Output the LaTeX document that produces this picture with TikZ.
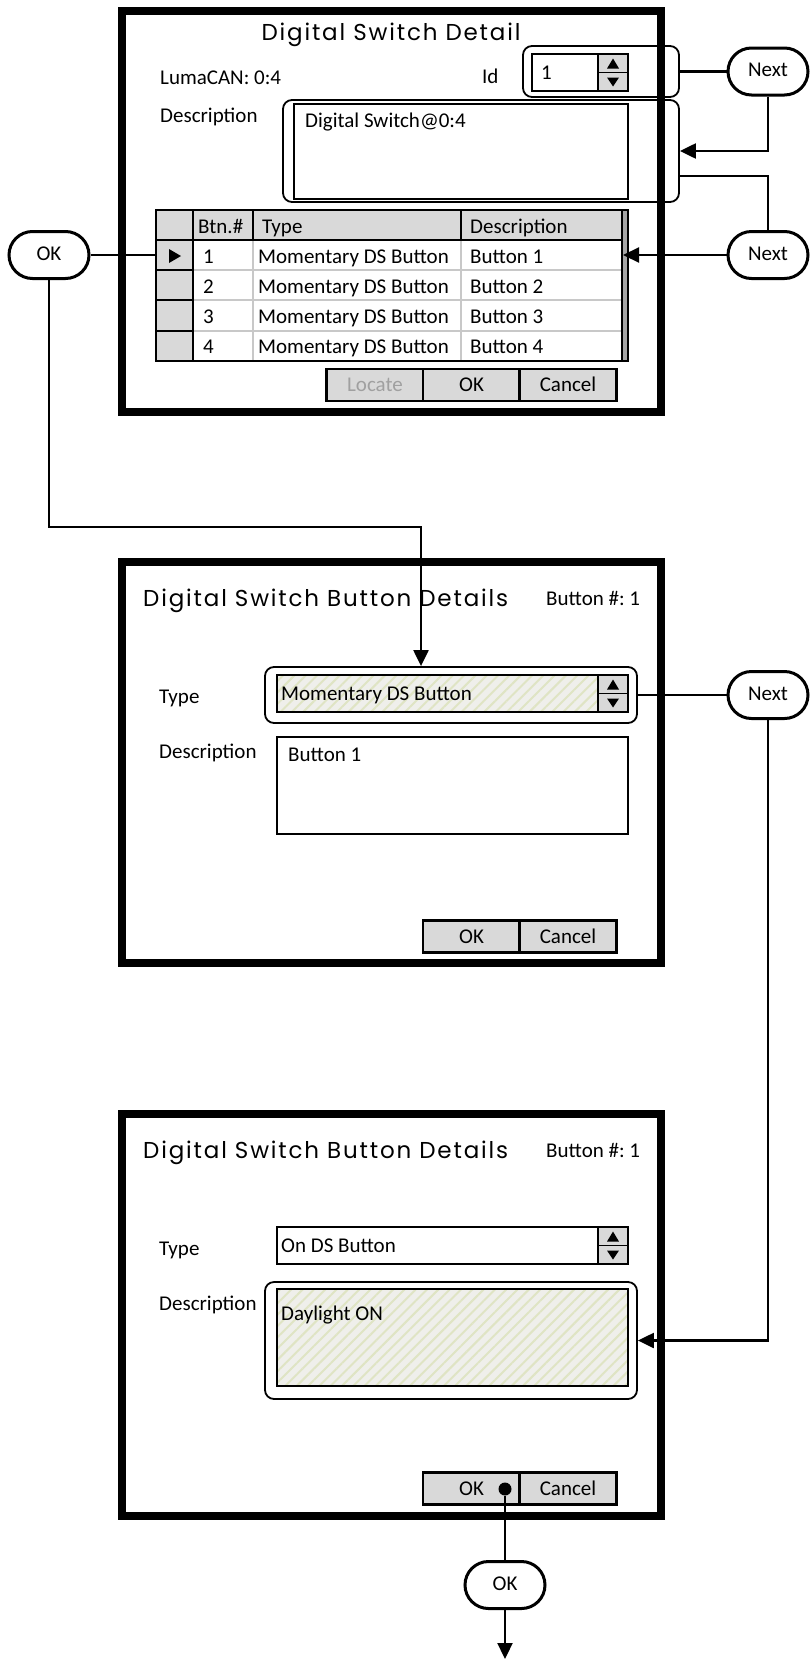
\documentclass[tikz,border=0pt]{standalone}
\usepackage{fontspec}
\setmainfont{Carlito}
\newfontfamily\headfont[LetterSpace=8]{Poppins}
\usetikzlibrary{arrows.meta,positioning,fit,shapes.misc,patterns.meta}
\definecolor{btngray}{HTML}{D9D9D9}
\definecolor{gridgray}{HTML}{C8C8C8}
\definecolor{scrollgray}{HTML}{A6A6A6}
\definecolor{hatchbg}{HTML}{EFEFEB}
\definecolor{hatchln}{HTML}{DFE4C4}
\definecolor{dimtext}{HTML}{A0A0A0}
\frenchspacing
\newcommand{\uifont}{\fontsize{21}{25}\selectfont}
\newcommand{\ttlfont}{\headfont\fontsize{23}{27}\selectfont}
\tikzset{
  win/.style    ={draw,line width=8pt},
  field/.style  ={draw,line width=2.2pt,fill=white},
  hatched/.style={draw,line width=2.2pt,preaction={fill=hatchbg},
                  pattern={Lines[angle=45,distance=8pt,line width=2pt]},pattern color=hatchln},
  spin/.style   ={draw,line width=1.5pt,fill=btngray},
  hilite/.style ={draw,line width=1.8pt,rounded corners=9pt,inner sep=0pt},
  btn/.style    ={draw,line width=2.2pt,fill=btngray,minimum width=97pt,minimum height=32pt,
                  inner sep=0pt,text height=15pt,text depth=2pt,font=\uifont},
  term/.style   ={draw,rounded rectangle,line width=3pt,minimum width=80pt,minimum height=47pt,
                  inner sep=0pt,text height=13pt,text depth=3pt,font=\uifont,fill=white},
  lbl/.style    ={anchor=base west,inner sep=0pt,font=\uifont},
  ttl/.style    ={inner sep=0pt,font=\ttlfont},
  grid/.style   ={draw=gridgray,line width=2.5pt},
  conn/.style   ={line width=2.2pt},
  arr/.style    ={conn,-{Triangle[length=16pt,width=15pt]}},
  dot/.style    ={circle,fill,inner sep=0pt,minimum size=13pt}
}

\begin{document}
\begin{tikzpicture}[x=1pt,y=-1pt]
  \useasboundingbox (0,0) rectangle (810,1660);

  % --- window 1: switch detail
  \draw[win] (121.5,11) rectangle (661,412);
  \node[ttl,anchor=base] (ttlA) at (391,40) {Digital Switch Detail};
  \node[lbl] (lumaLbl) at (160,84) {LumaCAN: 0:4};
  \node[lbl] (idLbl) at (482,83) {Id};
  \draw[field] (532,54) rectangle (628,91);
  \node[lbl] (idVal) at (541,79) {1};
  \node[lbl] (descLblA) at (160,122) {Description};
  \draw[field] (294,104) rectangle (628,199);
  \node[lbl] (descValA) at (305,127) {Digital Switch@0:4};
  \node[hilite,fit={(523,46) (679,97)}] (idHl) {};
  \node[hilite,fit={(283,100) (679,202)}] (descHlA) {};

  % table
  \fill[btngray] (156,210) rectangle (622,240);
  \fill[btngray] (156,240) rectangle (193,361);
  \foreach \ry in {270,300,331}
    \draw[grid] (193,\ry) -- (622,\ry);
  \foreach \cx in {253,461}
    \draw[grid] (\cx,240) -- (\cx,361);
  \draw[line width=2.5pt] (156,240) -- (622,240);
  \foreach \cx in {253,461}
    \draw[line width=2.5pt] (\cx,210) -- (\cx,240);
  \draw[line width=2.5pt] (193,210) -- (193,361);
  \foreach \ry in {270,300,331}
    \draw[line width=2.5pt] (156,\ry) -- (193,\ry);
  \draw[line width=2.5pt] (156,210) rectangle (622,361);
  \draw[line width=1.2pt,fill=scrollgray] (622,210) rectangle (628,361);
  \fill (169,249) -- (181,256) -- (169,263) -- cycle;
  \node[lbl] (hdNum) at (198,233) {Btn.\#};
  \node[lbl] (hdType) at (262,233) {Type};
  \node[lbl] (hdDesc) at (470,233) {Description};
  \foreach \i/\ry in {1/263,2/293,3/323,4/353} {
    \node[lbl] (num\i) at (203,\ry) {\i};
    \node[lbl] (type\i) at (258,\ry) {Momentary DS Button};
    \node[lbl] (desc\i) at (470,\ry) {Button \i};
  }
  \coordinate (rowOneW) at (156,255);
  \coordinate (rowOneE) at (623,255);

  \node[btn,text=dimtext] (locBtn) at (375,385) {Locate};
  \node[btn] (okBtnA) at (471.5,385) {OK};
  \node[btn] (cancelBtnA) at (568,385) {Cancel};

  % --- window 2: button details (momentary)
  \draw[win] (121.5,562) rectangle (661,963);
  \node[ttl,anchor=base west] (ttlB) at (143,606) {Digital Switch Button Details};
  \node[lbl] (numLblB) at (546,605) {Button \#: 1};
  \node[lbl] (typeLblB) at (159,703) {Type};
  \draw[hatched] (277,675) rectangle (628,712);
  \node[lbl] (typeValB) at (281,700) {Momentary DS Button};
  \node[lbl] (descLblB) at (159,758) {Description};
  \draw[field] (277,737) rectangle (628,834);
  \node[lbl] (descValB) at (288,761) {Button 1};
  \node[hilite,fit={(265,667) (637,723)}] (typeHl) {};
  \node[btn] (okBtnB) at (471.5,936.5) {OK};
  \node[btn] (cancelBtnB) at (568,936.5) {Cancel};

  % --- window 3: button details (on)
  \draw[win] (121.5,1114) rectangle (661,1515.5);
  \node[ttl,anchor=base west] (ttlC) at (143,1158) {Digital Switch Button Details};
  \node[lbl] (numLblC) at (546,1157) {Button \#: 1};
  \node[lbl] (typeLblC) at (159,1255) {Type};
  \draw[field] (277,1227) rectangle (628,1264);
  \node[lbl] (typeValC) at (281,1252) {On DS Button};
  \node[lbl] (descLblC) at (159,1310) {Description};
  \draw[hatched] (277,1289) rectangle (628,1386);
  \node[lbl] (descValC) at (281,1320) {Daylight ON};
  \node[hilite,fit={(265,1282) (637,1399)}] (descHlC) {};
  \node[btn] (okBtnC) at (471.5,1488.5) {OK};
  \node[btn] (cancelBtnC) at (568,1488.5) {Cancel};

  % spinners
  \foreach \st/\sb in {54/91,675/712,1227/1264} {
    \pgfmathsetmacro{\sm}{(\st+\sb)/2}
    \draw[spin] (598,\st) rectangle (628,\sb);
    \draw[line width=1.5pt] (598,\sm) -- (628,\sm);
    \fill (607,\sm-4) -- (619,\sm-4) -- (613,\sm-14) -- cycle;
    \fill (607,\sm+5) -- (619,\sm+5) -- (613,\sm+14) -- cycle;
  }

  % flow nodes
  \node[term] (nextA) at (768,71.5) {Next};
  \node[term] (nextB) at (768,255) {Next};
  \node[term] (okA) at (49,255) {OK};
  \node[term] (nextC) at (768,695) {Next};
  \node[term] (okB) at (505,1585) {OK};
  \node[dot] (okDot) at (505,1489) {};
  \coordinate (typeIn) at ([xshift=-30pt]typeHl.north);
  \coordinate (exitPt) at (505,1659);

  % connectors
  \draw[conn] (idHl.east) -- (nextA.west);
  \draw[arr] (nextA.south) |- (descHlA.east);
  \draw[conn] ([yshift=-25pt]descHlA.east) -| (nextB.north);
  \draw[arr] (nextB.west) -- (rowOneE);
  \draw[conn] (okA.east) -- (rowOneW);
  \draw[arr] (okA.south) |- ([yshift=139pt]typeIn) -- (typeIn);
  \draw[conn] (typeHl.east) -- (nextC.west);
  \draw[arr] (nextC.south) |- (descHlC.east);
  \draw[conn] (okDot) -- (okB.north);
  \draw[arr] (okB.south) -- (exitPt);
\end{tikzpicture}
\end{document}
